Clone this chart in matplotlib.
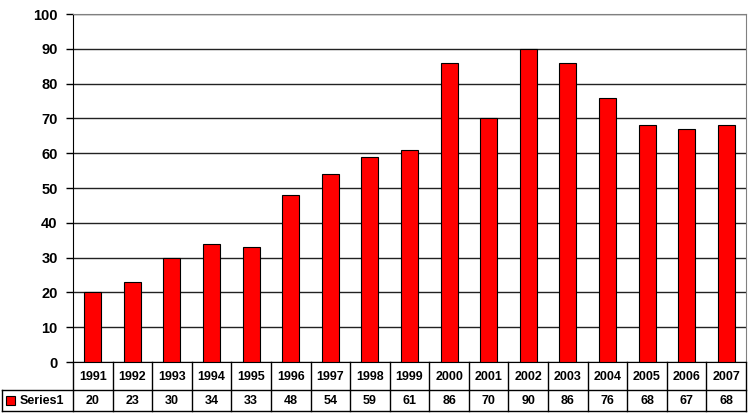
import matplotlib.pyplot as plt
from matplotlib.patches import Rectangle
from matplotlib.lines import Line2D
import matplotlib.transforms as mtransforms
import numpy as np

plt.rcParams['font.family'] = ['Liberation Sans', 'DejaVu Sans']

years = [1991, 1992, 1993, 1994, 1995, 1996, 1997, 1998, 1999,
         2000, 2001, 2002, 2003, 2004, 2005, 2006, 2007]
values = [20, 23, 30, 34, 33, 48, 54, 59, 61, 86, 70, 90, 86, 76, 68, 67, 68]
series_name = 'Series1'

W, H = 750, 415
fig = plt.figure(figsize=(W / 100, H / 100), dpi=100)

# plot area in pixels
left, right, top, bottom = 73, 746, 14, 362
ax = fig.add_axes([left / W, 1 - bottom / H, (right - left) / W, (bottom - top) / H])

x = np.arange(len(years))
ax.bar(x, values, width=0.43, color='#ff0000', edgecolor='black', linewidth=0.8, zorder=3)

ax.set_xlim(-0.5, len(years) - 0.5)
ax.set_ylim(0, 100)
ax.set_yticks(range(0, 101, 10))
ax.set_yticklabels([str(v) for v in range(0, 101, 10)], fontsize=10.5, fontweight='bold')
ax.tick_params(axis='y', direction='out', length=5, width=1, pad=6)
ax.set_xticks([])
ax.yaxis.grid(True, color='#222222', linewidth=1, zorder=0)
ax.set_axisbelow(True)
for s in ['top', 'right']:
    ax.spines[s].set_color('#808080')
ax.spines['left'].set_color('black')
ax.spines['bottom'].set_color('black')

# data table below the plot
trans = mtransforms.blended_transform_factory(ax.transData, fig.transFigure)
fy = lambda py: 1 - py / H
row1_top, row1_bot, row2_bot = 362, 390, 411

for i in range(len(years) + 1):
    xb = i - 0.5
    fig.add_artist(Line2D([xb, xb], [fy(row1_top), fy(row2_bot)], transform=trans,
                          color='black', linewidth=1))
fig.add_artist(Line2D([2 / W, right / W], [fy(row1_bot)] * 2, transform=fig.transFigure,
                      color='black', linewidth=1))
fig.add_artist(Line2D([2 / W, right / W], [fy(row2_bot)] * 2, transform=fig.transFigure,
                      color='black', linewidth=1))
fig.add_artist(Line2D([2 / W, 2 / W], [fy(row1_bot), fy(row2_bot)], transform=fig.transFigure,
                      color='black', linewidth=1))

for i, (yr, v) in enumerate(zip(years, values)):
    fig.text(i, fy((row1_top + row1_bot) / 2 + 1), str(yr), transform=trans,
             ha='center', va='center', fontsize=9, fontweight='bold')
    fig.text(i, fy((row1_bot + row2_bot) / 2), str(v), transform=trans,
             ha='center', va='center', fontsize=9, fontweight='bold')

fig.add_artist(Rectangle((6 / W, fy(405)), 9 / H * H / W, 9 / H, transform=fig.transFigure,
                         facecolor='#ff0000', edgecolor='black', linewidth=0.8))
fig.text(20 / W, fy((row1_bot + row2_bot) / 2), series_name, ha='left', va='center',
         fontsize=9, fontweight='bold')

fig.savefig('out.png', dpi=100)
